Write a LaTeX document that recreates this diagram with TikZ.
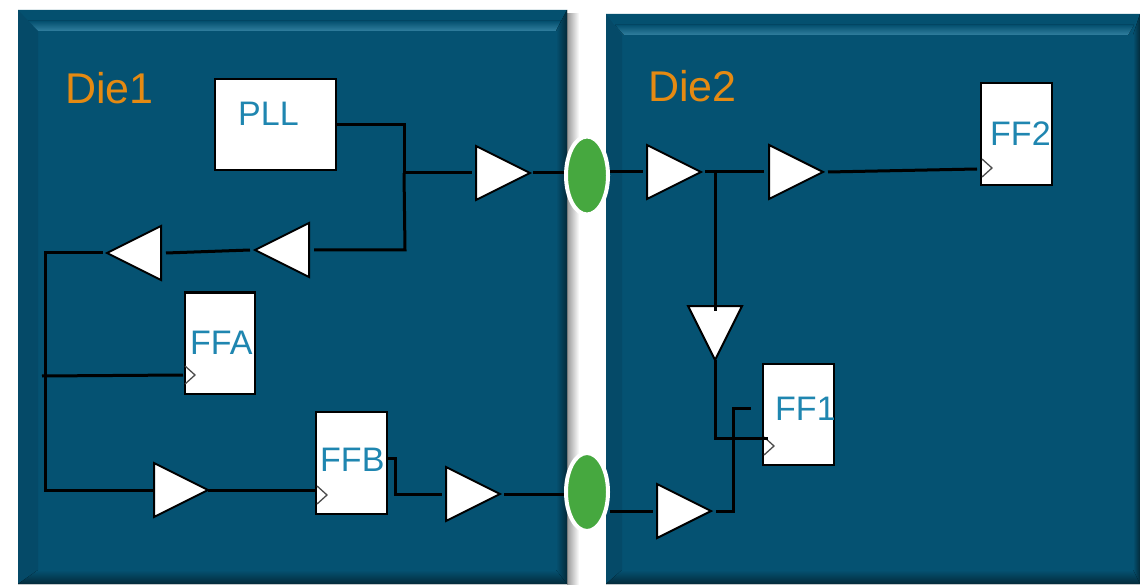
\documentclass[tikz,border=0pt]{standalone}
\usepackage{fontspec}
\setmainfont{Liberation Sans}
\usetikzlibrary{shapes.geometric}
\definecolor{diemain}{HTML}{055272}
\definecolor{bevtop}{HTML}{04506F}
\definecolor{bevlite}{HTML}{317F9F}
\definecolor{bevleft}{HTML}{054A68}
\definecolor{bevdark}{HTML}{032A3A}
\definecolor{dietxt}{HTML}{E58A12}
\definecolor{fftxt}{HTML}{1F86B0}
\definecolor{padgreen}{HTML}{46A83F}
\tikzset{
  x=1pt,y=-1pt,
  wire/.style={line width=3pt,draw=black,line join=miter},
  boxn/.style={draw=black,fill=white,line width=2pt,rectangle,inner sep=0pt,outer sep=0pt},
  buf/.style={isosceles triangle,isosceles triangle stretches,draw=black,fill=white,line width=2pt,inner sep=0pt,outer sep=0pt,minimum width=54pt,minimum height=54pt},
  pad/.style={ellipse,draw=white,fill=padgreen,line width=4pt,inner sep=0pt,outer sep=0pt,minimum width=42pt,minimum height=78pt},
  dielabel/.style={font=\fontsize{43}{43}\selectfont,text=dietxt,inner sep=0pt,anchor=base west},
  fflabel/.style={font=\fontsize{34}{34}\selectfont,text=fftxt,inner sep=0pt,anchor=base west},
  clk/.style={draw=black!70,line width=1.3pt,line join=miter}
}
\begin{document}
\begin{tikzpicture}
\useasboundingbox (0,0) rectangle (1140,585);
\fill[white] (0,0) rectangle (1140,585);
% shadows
\shade[left color=black!40,right color=white] (567,14) rectangle (579,585);
% Die 1
\fill[diemain] (18,10) rectangle (567,584);
\fill[bevtop] (18,10) -- (567,10) -- (556,31) -- (36,31) -- cycle;
\fill[top color=bevtop,bottom color=bevlite] (27,21) -- (561,21) -- (556,31) -- (36,31) -- cycle;
\fill[bevleft] (18,10) -- (38,31) -- (38,570) -- (18,584) -- cycle;
\fill[left color=diemain,right color=bevdark] (556,31) -- (567,10) -- (567,584) -- (556,572) -- cycle;
\fill[top color=diemain,bottom color=bevdark] (18,584) -- (38,570) -- (556,570) -- (567,584) -- cycle;
% Die 2
\fill[diemain] (606,14) rectangle (1140,584);
\fill[bevtop] (606,14) -- (1140,14) -- (1128,35) -- (626,35) -- cycle;
\fill[top color=bevtop,bottom color=bevlite] (615,25) -- (1134,25) -- (1128,35) -- (624,35) -- cycle;
\fill[bevleft] (606,14) -- (622,35) -- (622,572) -- (606,584) -- cycle;
\fill[left color=diemain,right color=bevdark] (1133,35) -- (1140,14) -- (1140,584) -- (1133,572) -- cycle;
\fill[top color=diemain,bottom color=bevdark] (606,584) -- (622,570) -- (1133,570) -- (1140,584) -- cycle;
% labels
\node[dielabel] (die1) at (65,104) {Die1};
\node[dielabel] (die2) at (648,102) {Die2};
% boxes
\node[boxn,minimum width=121pt,minimum height=91pt] (pll) at (275.5,124.5) {};
\node[boxn,minimum width=70pt,minimum height=101pt] (ffa) at (219.5,343) {};
\node[boxn,minimum width=71pt,minimum height=102pt] (ffb) at (351.5,463) {};
\node[boxn,minimum width=71pt,minimum height=101pt] (ffone) at (798.5,414.5) {};
\node[boxn,minimum width=71pt,minimum height=102pt] (fftwo) at (1016.5,134) {};
\node[fflabel] (pllt) at (238,126) {PLL};
\node[fflabel] (ffat) at (190,354) {FFA};
\node[fflabel] (ffbt) at (320,471) {FFB};
\node[fflabel] (ff1t) at (775,420) {FF1};
\node[fflabel] (ff2t) at (990,146) {FF2};
% clock chevrons
\draw[clk] (185,366) -- (195,375) -- (185,384);
\draw[clk] (317,486) -- (327,495) -- (317,504);
\draw[clk] (764,437) -- (774,446) -- (764,455);
\draw[clk] (982,159) -- (992,168) -- (982,177);
% buffers (positioned by apex)
\node[buf,anchor=apex] (b1) at (530,173) {};
\node[buf,anchor=apex,shape border rotate=180] (b2) at (255,250) {};
\node[buf,anchor=apex,shape border rotate=180] (b3) at (107,253) {};
\node[buf,anchor=apex] (b4) at (208,490) {};
\node[buf,anchor=apex] (b5) at (500,494) {};
\node[buf,anchor=apex] (b6) at (711,511) {};
\node[buf,anchor=apex] (b7) at (701,172) {};
\node[buf,anchor=apex] (b8) at (823,172) {};
\node[buf,anchor=apex,shape border rotate=-90] (b9) at (715,360) {};
% pads
\node[pad] (p1) at (587,175.5) {};
\node[pad] (p2) at (587,492) {};
% junctions and free ends
\coordinate (pllout) at (336,125);
\coordinate (j1) at (404,173);
\coordinate (j2) at (715,172);
\coordinate (clka) at (183,375);
\coordinate (clkb) at (316,490);
\coordinate (clk1) at (768,438);
\coordinate (clk2) at (977,169);
\coordinate (ffbout) at (387,458);
\coordinate (stub) at (751,408);
\coordinate (branch) at (42,376);
% wires
\draw[wire] (pllout) -| (j1);
\draw[wire] (j1) -- ([xshift=-4pt]b1.lower side);
\draw[wire] (j1) -- (405,250) -- ([xshift=5pt]b2.lower side);
\draw[wire] ([xshift=-5pt]b2.apex) -- ([xshift=5pt]b3.lower side);
\draw[wire] ([xshift=-4pt]b3.apex) -- (45,253) -- (45,490) -- (b4.lower side);
\draw[wire] (branch) -- (clka);
\draw[wire] (b4.apex) -- (clkb);
\draw[wire] (ffbout) -- (395,458) -- (395,494) -- ([xshift=-4pt]b5.lower side);
\draw[wire] ([xshift=4pt]b5.apex) -- ([xshift=-2pt]p2.west |- b5.apex);
\draw[wire] ([xshift=3pt]b1.apex) -- ([xshift=-2pt]p1.west |- b1.apex);
\draw[wire] ([xshift=2pt]p1.east |- b7.lower side) -- ([xshift=-4pt]b7.lower side);
\draw[wire] ([xshift=4pt]b7.apex) -- ([xshift=-5pt]b8.lower side);
\draw[wire] ([xshift=5pt]b8.apex) -- (clk2);
\draw[wire] (j2) -- ([yshift=-5pt]b9.lower side);
\draw[wire] (b9.apex) -- (715,438) -- (clk1);
\draw[wire] ([xshift=2pt]p2.east |- b6.lower side) -- ([xshift=-4pt]b6.lower side);
\draw[wire] ([xshift=5pt]b6.apex) -- (733,511) -- (733,408) -- (stub);
\end{tikzpicture}
\end{document}
